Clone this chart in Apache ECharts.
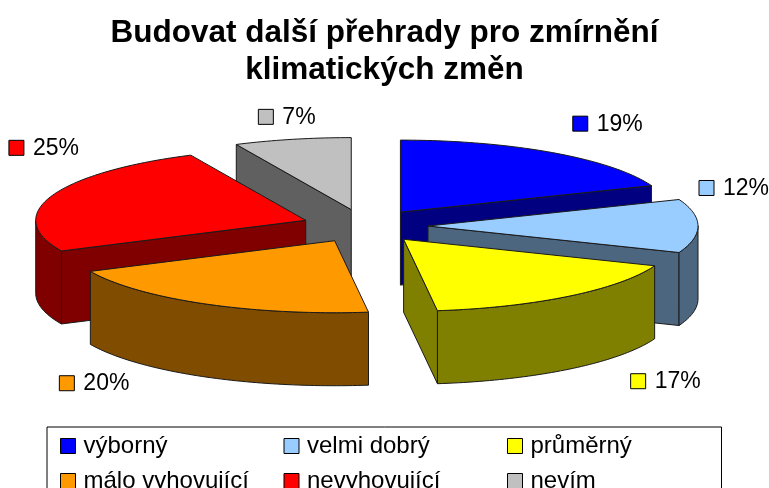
<!DOCTYPE html>
<html>
<head>
<meta charset="utf-8">
<script src="https://cdn.jsdelivr.net/npm/echarts@6/dist/echarts.min.js"></script>
<style>
  html, body { margin: 0; padding: 0; background: #fff; }
  #chart { width: 769px; height: 488px; }
</style>
</head>
<body>
<div id="chart"></div>
<script>
// data
const categories = ["výborný", "velmi dobrý", "průměrný", "málo vyhovující", "nevyhovující", "nevím"];
const shares = [19, 12, 17, 20, 25, 7];
const topColors = ["#0000ff", "#99ccff", "#ffff00", "#ff9900", "#ff0000", "#c0c0c0"];
const sideColors = ["#000080", "#4d6680", "#808000", "#804d00", "#800000", "#606060"];

const FONT = "Liberation Sans, Arial, sans-serif";
const total = shares.reduce((a, b) => a + b, 0);

// 3d pie look: flattened ellipse, extruded down, slices pulled out
const CX = 365, CY = 226, RX = 270, RY = 72, DEPTH = 73, EXPLODE = 63;

let acc = 0;
const starts = shares.map((v) => { const s = acc; acc += v; return s; });

function renderSlice(params, api) {
  const i = params.seriesIndex;
  const v = api.value(0);
  const start = api.value(1);
  const a0 = start / total * 2 * Math.PI;
  const a1 = (start + v) / total * 2 * Math.PI;
  const am = (a0 + a1) / 2;
  const s = Math.sin(am), c = Math.cos(am);
  const ax = CX + EXPLODE * s;
  const ay = CY - EXPLODE * RY / RX * c;
  const pt = (a, dz) => [ax + RX * Math.sin(a), ay - RY * Math.cos(a) + dz];
  const arc = (from, to, dz) => {
    const n = Math.max(2, Math.ceil((to - from) / 0.02));
    const out = [];
    for (let k = 0; k <= n; k++) out.push(pt(from + (to - from) * k / n, dz));
    return out;
  };
  const base = Math.round((1 - c) * 100) * 10;
  const edgeStyle = { stroke: "#1a1a1a", lineWidth: 1, lineJoin: "round" };
  const children = [];

  // radial walls that face the viewer
  const walls = [];
  if (Math.sin(a0) < -1e-6) walls.push(a0);
  if (Math.sin(a1) > 1e-6) walls.push(a1);
  walls.forEach((a) => {
    const p = pt(a, 0);
    children.push({
      type: "polygon", z2: base + 1,
      shape: { points: [[ax, ay], p, [p[0], p[1] + DEPTH], [ax, ay + DEPTH]] },
      style: Object.assign({ fill: sideColors[i] }, edgeStyle)
    });
  });

  // outer wall, front half only
  const f0 = Math.max(a0, Math.PI / 2), f1 = Math.min(a1, Math.PI * 1.5);
  if (f1 > f0) {
    const topArc = arc(f0, f1, 0);
    const botArc = arc(f0, f1, DEPTH).reverse();
    children.push({
      type: "polygon", z2: base + 2,
      shape: { points: topArc.concat(botArc) },
      style: Object.assign({ fill: sideColors[i] }, edgeStyle)
    });
  }

  // top face
  const rim = arc(a0, a1, 0);
  children.push({
    type: "polygon", z2: base + 3,
    shape: { points: [[ax, ay]].concat(rim) },
    style: Object.assign({ fill: topColors[i] }, edgeStyle)
  });

  // label with colour key, placed off the slice box
  const xs = rim.map((p) => p[0]).concat(ax);
  const ys = rim.map((p) => p[1]).concat(ay);
  const minX = Math.min(...xs), maxX = Math.max(...xs);
  const minY = Math.min(...ys), maxY = Math.max(...ys) + DEPTH;
  const rimX = ax + RX * s;
  const edge = s > 0 ? maxX : minX;
  let lx, ly;
  if (Math.abs(s) < 0.3) lx = rimX;
  else if (c > 0.2) lx = edge * 0.55 + rimX * 0.45;
  else if (c >= -0.2) lx = edge + 35 * Math.sign(s);
  else lx = edge + (s > 0 ? 10 : 3);
  if (c > 0.2) ly = minY - 6 - 16 * c * c;
  else if (c >= -0.2) ly = minY - 12;
  else ly = maxY - 3;

  children.push({
    type: "rect", z2: 100000,
    shape: { x: lx - 34, y: ly - 7, width: 15, height: 15 },
    style: { fill: topColors[i], stroke: "#000", lineWidth: 1 }
  });
  children.push({
    type: "text", z2: 100001,
    x: lx - 34 + 24, y: ly + 1,
    style: {
      text: Math.round(v / total * 100) + "%",
      fontSize: 23, fontFamily: FONT, fill: "#000",
      align: "left", verticalAlign: "middle"
    }
  });

  return { type: "group", children: children };
}

const chart = echarts.init(document.getElementById("chart"));
chart.setOption({
  backgroundColor: "#fff",
  animation: false,
  title: {
    text: "Budovat další přehrady pro zmírnění\nklimatických změn",
    left: "center",
    top: 10,
    textStyle: { fontSize: 31.5, fontWeight: "bold", fontFamily: FONT, color: "#000", lineHeight: 37 }
  },
  legend: {
    data: categories,
    left: 47,
    top: 427,
    width: 700,
    icon: "rect",
    itemWidth: 15,
    itemHeight: 15,
    itemGap: 11,
    padding: [7, 2, 8, 13],
    borderColor: "#000",
    borderWidth: 1,
    itemStyle: { borderColor: "#000", borderWidth: 1 },
    textStyle: { fontSize: 24, fontFamily: FONT, color: "#000", width: 189, lineHeight: 20, padding: [0, 0, 0, 3] },
    selectedMode: false
  },
  series: categories.map((name, i) => ({
    type: "custom",
    name: name,
    coordinateSystem: "none",
    itemStyle: { color: topColors[i] },
    renderItem: renderSlice,
    data: [[shares[i], starts[i]]]
  }))
});
</script>
</body>
</html>
